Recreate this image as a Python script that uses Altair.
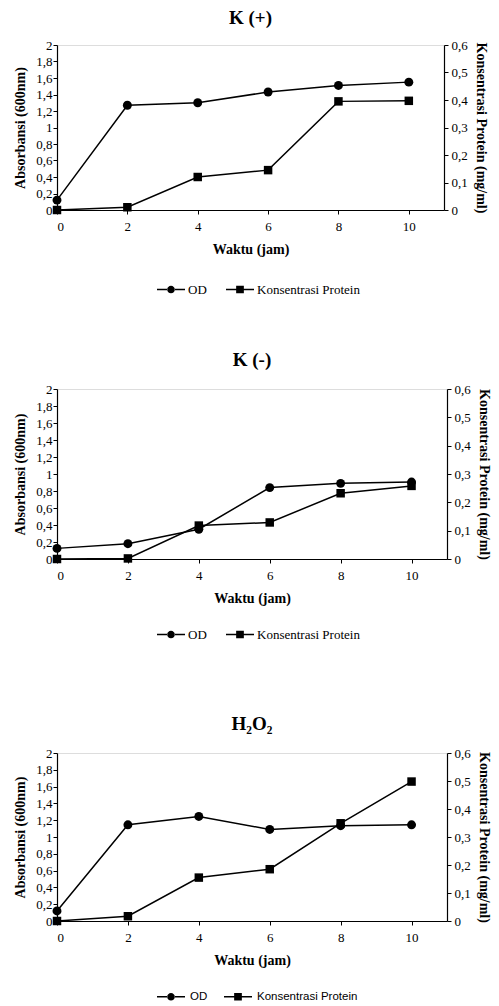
import altair as alt
import pandas as pd

hours = [0, 2, 4, 6, 8, 10]
od_kpos = [0.12, 1.27, 1.30, 1.43, 1.51, 1.55]
prot_kpos = [0.0, 0.01, 0.12, 0.145, 0.395, 0.397]
od_kneg = [0.125, 0.18, 0.35, 0.84, 0.89, 0.905]
prot_kneg = [0.0, 0.002, 0.118, 0.129, 0.232, 0.258]
od_h2o2 = [0.12, 1.145, 1.245, 1.09, 1.135, 1.145]
prot_h2o2 = [0.0, 0.017, 0.155, 0.185, 0.349, 0.498]
titles = ["K (+)", "K (-)", "H₂O₂"]
series = ["OD", "Konsentrasi Protein"]
od_ticks = [0, 0.2, 0.4, 0.6, 0.8, 1, 1.2, 1.4, 1.6, 1.8, 2]
prot_ticks = [0, 0.1, 0.2, 0.3, 0.4, 0.5, 0.6]

SERIF = "Liberation Serif"
SANS = "Liberation Sans"
COMMA = "replace(format(datum.value, '.1~f'), '.', ',')"

# legend glyphs: a line with a marker in the middle (all filled shapes)
PATH_C = ("M-2,-0.1L-0.5,-0.1L-0.5,0.1L-2,0.1Z"
          "M0.5,-0.1L2,-0.1L2,0.1L0.5,0.1Z"
          "M-0.55,0A0.55,0.55,0,1,0,0.55,0A0.55,0.55,0,1,0,-0.55,0Z")
PATH_S = ("M-2,-0.1L-0.5,-0.1L-0.5,0.1L-2,0.1Z"
          "M0.5,-0.1L2,-0.1L2,0.1L0.5,0.1Z"
          "M-0.55,-0.55L0.55,-0.55L0.55,0.55L-0.55,0.55Z")


def axis_common(**kw):
    return alt.Axis(
        labelFont=SERIF, labelFontSize=13, labelColor="black",
        titleFont=SERIF, titleFontSize=14, titleFontWeight="bold", titleColor="black",
        domainColor="black", domainWidth=1.2, tickColor="black", tickSize=4,
        grid=False, **kw)


def panel(title, od, prot, width, height, legend_font, legend_size, lx, ly,
          label_offset, col_pad, title_offset, title_lh):
    df = pd.DataFrame({"jam": hours, "OD": od, "Protein": prot})
    x = alt.X("jam:Q", scale=alt.Scale(domain=[0, 11], nice=False),
              axis=axis_common(values=hours, title="Waktu (jam)", labelPadding=6,
                               titlePadding=9))
    y_od = alt.Y("OD:Q", scale=alt.Scale(domain=[0, 2], nice=False),
                 axis=axis_common(values=od_ticks, labelExpr=COMMA, orient="left",
                                  labelPadding=1, title="Absorbansi (600nm)",
                                  titlePadding=8))
    y_p = alt.Y("Protein:Q", scale=alt.Scale(domain=[0, 0.6], nice=False),
                axis=axis_common(values=prot_ticks, labelExpr=COMMA, orient="right",
                                 labelPadding=3, title="Konsentrasi Protein (mg/ml)",
                                 titleAngle=90, titlePadding=6))
    base = alt.Chart(df)
    od_layer = alt.layer(
        base.mark_line(color="black", strokeWidth=1.5).encode(x=x, y=y_od),
        base.mark_point(shape="circle", filled=True, color="black", opacity=1,
                        size=80).encode(x=x, y=y_od),
    )
    p_layer = alt.layer(
        base.mark_line(color="black", strokeWidth=1.5).encode(x=x, y=y_p),
        base.mark_point(shape="square", filled=True, color="black", opacity=1,
                        size=72).encode(x=x, y=y_p),
    )
    leg_df = pd.DataFrame({"series": series})
    legend_layer = alt.Chart(leg_df).transform_filter("false").mark_point(
        filled=True, color="black", opacity=1
    ).encode(
        x=alt.value(0), y=alt.value(0), size=alt.value(196),
        shape=alt.Shape("series:N", sort=series,
                        scale=alt.Scale(domain=series, range=[PATH_C, PATH_S]),
                        legend=alt.Legend(
                            title=None, orient="none", direction="horizontal",
                            legendX=lx, legendY=ly,
                            labelFont=legend_font, labelFontSize=legend_size,
                            labelColor="black", labelOffset=label_offset,
                            columnPadding=col_pad,
                            symbolFillColor="black", symbolStrokeWidth=0,
                            symbolOpacity=1, symbolSize=196, padding=0)),
    )
    return alt.layer(od_layer, p_layer, legend_layer).resolve_scale(
        y="independent"
    ).properties(
        width=width, height=height,
        title=alt.TitleParams(title, font=SERIF, fontSize=19, fontWeight="bold",
                              color="black", anchor="middle", offset=title_offset,
                              lineHeight=title_lh),
    )


p1 = panel(titles[0], od_kpos, prot_kpos, 387, 165, SERIF, 13, 107, 237.5, 10, 19, 11, 18)
p2 = panel(titles[1], od_kneg, prot_kneg, 390, 170, SERIF, 13, 107, 238.5, 10, 19, 13, 18)
p3 = panel(["", titles[2]], od_h2o2, prot_h2o2, 390, 168, SANS, 11.5, 107, 236.5, 12, 16,
           13, 19)

chart = alt.vconcat(p1, p2, p3, spacing=53).resolve_scale(
    shape="independent"
).resolve_legend(shape="independent").properties(
    padding={"left": 5, "right": 0, "top": 0, "bottom": 0}
).configure_view(stroke=None).configure(background="white")

chart.save("out.html", embed_options={"renderer": "svg", "actions": False})
